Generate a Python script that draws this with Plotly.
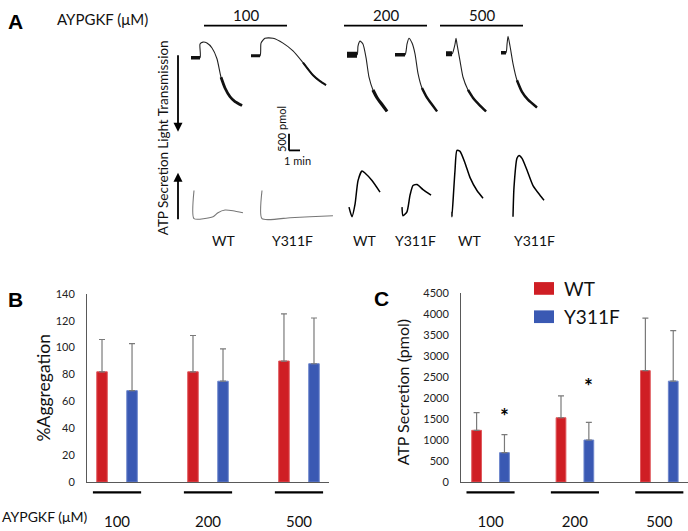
import plotly.graph_objects as go

W, H = 688, 531
FONT = "Lato"
RED = "#CF1E24"
BLUE = "#3A59B3"

# ---- panel B / C data ----
doses = ["100", "200", "500"]
agg_wt = [82, 82, 90]
agg_wt_err = [24, 27, 35]
agg_y311f = [68, 75, 88]
agg_y311f_err = [35, 24, 34]

atp_wt = [1230, 1530, 2650]
atp_wt_err = [420, 520, 1250]
atp_y311f = [700, 1000, 2400]
atp_y311f_err = [430, 420, 1200]
sig_dose = ["100", "200"]
sig_y = [1670, 2390]

# ---- panel A traces (time in min, light transmission in a.u., ATP in pmol) ----
wt100_lt_t = [0, 0.82, 0.82, 1.09, 1.45, 1.91, 2.36, 2.73, 3.09, 3.55, 4.0, 4.64]
wt100_lt_v = [0, 0, 14, 16, 15, 10, -1, -20, -31, -40, -45, -49]
y100_lt_t = [0, 0.82, 0.91, 1.27, 2.0, 2.91, 3.82, 4.73, 5.64, 6.27, 6.82]
y100_lt_v = [0, 0, 13, 18, 18, 13, 5, -7, -20, -26, -30]
wt200_lt_t = [0, 0.91, 1.0, 1.18, 1.45, 1.73, 2.0, 2.36, 2.73, 3.18, 3.64]
wt200_lt_v = [0, 0, 9, 14, 11, -3, -23, -36, -44, -51, -58]
y200_lt_t = [0, 0.91, 1.09, 1.27, 1.55, 1.82, 2.09, 2.45, 2.91, 3.36, 3.82]
y200_lt_v = [0, 0, 11, 17, 12, 1, -19, -34, -44, -51, -58]
wt500_lt_t = [0, 0.55, 0.82, 0.91, 1.0, 1.27, 1.55, 2.0, 2.45, 3.09, 3.64]
wt500_lt_v = [0, 0, 10, 16, 10, -7, -24, -37, -45, -53, -59]
y500_lt_t = [0, 0.45, 0.55, 0.64, 0.82, 1.09, 1.45, 1.91, 2.45, 3.27]
y500_lt_v = [0, 0, 9, 17, 7, -11, -28, -40, -48, -56]

wt100_atp_t = [0, 0, 1.73, 2.18, 2.82, 3.55, 4.45]
wt100_atp_v = [850, 0, 60, 180, 260, 240, 180]
y100_atp_t = [0, 0, 2.55, 4.36, 6.45]
y100_atp_v = [850, 0, 30, 60, 90]
wt200_atp_t = [0, 0.27, 0.55, 0.82, 1.18, 1.45, 2.09, 2.82]
wt200_atp_v = [290, 0, 380, 1090, 1380, 1320, 1090, 740]
y200_atp_t = [0, 0.09, 0.45, 0.73, 1.0, 1.36, 1.91, 2.64]
y200_atp_v = [260, 0, 120, 620, 910, 940, 790, 620]
wt500_atp_t = [0, 0, 0.27, 0.45, 0.73, 1.18, 1.64, 2.27, 2.82]
wt500_atp_v = [150, 0, 1380, 2000, 1970, 1620, 1180, 790, 560]
y500_atp_t = [0, 0.09, 0.36, 0.55, 0.82, 1.27, 1.82, 2.45, 2.82]
y500_atp_v = [0, 880, 1760, 1850, 1760, 1410, 940, 650, 500]

trace_labels = ["WT", "Y311F", "WT", "Y311F", "WT", "Y311F"]

# drawing scale of panel A
PX_MIN = 11.0
PX_LT = 1.0
PX_PMOL = 17.0 / 500


def px(x):
    return x / W


def py(y):
    return 1 - y / H


shapes = []
annotations = []


def note(x, y, text, size, angle=0, xanchor="center", family=FONT, color="#111"):
    annotations.append(dict(xref="paper", yref="paper", x=px(x), y=py(y), text=text, textangle=angle,
                            showarrow=False, xanchor=xanchor, yanchor="middle",
                            font=dict(family=family, size=size, color=color)))


fig = go.Figure()

# ---------- bar charts ----------
err_style = dict(type="data", symmetric=False, color="#7a7a7a", thickness=1.2, width=3)
fig.add_trace(go.Bar(x=doses, y=agg_wt, name="WT", marker=dict(color=RED, line=dict(color="#e0585c", width=1)),
                     error_y=dict(array=agg_wt_err, arrayminus=[0] * 3, **err_style),
                     xaxis="x", yaxis="y", showlegend=False))
fig.add_trace(go.Bar(x=doses, y=agg_y311f, name="Y311F", marker=dict(color=BLUE, line=dict(color="#6d86cc", width=1)),
                     error_y=dict(array=agg_y311f_err, arrayminus=[0] * 3, **err_style),
                     xaxis="x", yaxis="y", showlegend=False))
fig.add_trace(go.Bar(x=doses, y=atp_wt, name="WT", marker=dict(color=RED, line=dict(color="#e0585c", width=1)),
                     error_y=dict(array=atp_wt_err, arrayminus=[0] * 3, **err_style),
                     xaxis="x2", yaxis="y2", showlegend=False))
fig.add_trace(go.Bar(x=doses, y=atp_y311f, name="Y311F", marker=dict(color=BLUE, line=dict(color="#6d86cc", width=1)),
                     error_y=dict(array=atp_y311f_err, arrayminus=[0] * 3, **err_style),
                     xaxis="x2", yaxis="y2", showlegend=False))

axis_common = dict(showgrid=False, zeroline=False, showline=True, linecolor="#595959", linewidth=1,
                   ticks="", fixedrange=True, tickfont=dict(family=FONT, size=11, color="#222"))
layout = dict(
    xaxis=dict(axis_common, domain=[px(87), px(329)], range=[-0.33, 2.33], anchor="y",
               tickfont=dict(family=FONT, size=15, color="#111"), ticklabelstandoff=26),
    yaxis=dict(axis_common, domain=[py(487), py(294)], range=[0, 140], dtick=20, anchor="x",
               ticklabelstandoff=9),
    xaxis2=dict(axis_common, domain=[px(461), 1.0], range=[-0.35, 2.34], anchor="y2",
                tickfont=dict(family=FONT, size=15, color="#111"), ticklabelstandoff=26),
    yaxis2=dict(axis_common, domain=[py(487), py(293)], range=[0, 4500], dtick=500, anchor="x2",
                ticklabelstandoff=9),
)

# group underlines
for i in range(3):
    shapes.append(dict(type="line", xref="x", yref="paper", x0=i - 0.265, x1=i + 0.265,
                       y0=py(497.5), y1=py(497.5), line=dict(color="black", width=2.2)))
    shapes.append(dict(type="line", xref="x2", yref="paper", x0=i - 0.285, x1=i + 0.285,
                       y0=py(497.5), y1=py(497.5), line=dict(color="black", width=2.2)))

# significance
for d, s in zip(sig_dose, sig_y):
    annotations.append(dict(xref="x2", yref="y2", x=doses.index(d) + 0.166, y=s, text="<b>*</b>",
                            showarrow=False, font=dict(family=FONT, size=21, color="black"),
                            xanchor="center", yanchor="middle", yshift=-4))

# legend (panel C)
for k, (c, name) in enumerate([(RED, "WT"), (BLUE, "Y311F")]):
    top = 282 + k * 29
    shapes.append(dict(type="rect", xref="paper", yref="paper", x0=px(534), x1=px(554),
                       y0=py(top + 13), y1=py(top), fillcolor=c, line=dict(width=0)))
    note(562, top + 6.5, name, 19, xanchor="left")

# axis titles
note(43, 391, "%Aggregation", 17.5, angle=-90)
note(402, 395, "ATP Secretion (pmol)", 16, angle=-90)
note(0, 522, "AYPGKF (\u03bcM)", 14, xanchor="left")

# panel letters
for letter, x, y in [("A", 15, 15), ("B", 15, 300), ("C", 381, 299)]:
    note(x, y, "<b>%s</b>" % letter, 21, family="Liberation Sans", color="black")

# ---------- panel A ----------
note(55, 12, "AYPGKF (\u03bcM)", 15, xanchor="left")
for d, (a, b) in zip(doses, [(204, 287), (344, 427), (440, 523)]):
    shapes.append(dict(type="line", xref="paper", yref="paper", x0=px(a), x1=px(b), y0=py(19), y1=py(19),
                       line=dict(color="black", width=1.8)))
    note((a + b) / 2, 8, d, 15)

for lab, x in zip(trace_labels, [223, 292, 364, 415, 469, 534]):
    note(x, 239, lab, 14)

note(163, 90, "Light Transmission", 13.5, angle=-90)
note(163, 192, "ATP Secretion", 13.5, angle=-90)
annotations.append(dict(xref="paper", yref="paper", x=px(178), y=py(128), ax=0, ay=-78, text="",
                        showarrow=True, arrowhead=2, arrowsize=1, arrowwidth=1.8, arrowcolor="black"))
annotations.append(dict(xref="paper", yref="paper", x=px(178), y=py(170), ax=0, ay=48, text="",
                        showarrow=True, arrowhead=2, arrowsize=1, arrowwidth=1.8, arrowcolor="black"))

# scale bar: 500 pmol x 1 min
sb_x, sb_y = 289, 147
shapes.append(dict(type="line", xref="paper", yref="paper", x0=px(sb_x), x1=px(sb_x),
                   y0=py(sb_y), y1=py(sb_y - 500 * PX_PMOL), line=dict(color="black", width=1.8)))
shapes.append(dict(type="line", xref="paper", yref="paper", x0=px(sb_x), x1=px(sb_x + 1 * PX_MIN),
                   y0=py(sb_y), y1=py(sb_y), line=dict(color="black", width=1.8)))
note(282, 125, "500 pmol", 11, angle=-90)
note(297, 157, "1 min", 11)

lt_sets = [(wt100_lt_t, wt100_lt_v), (y100_lt_t, y100_lt_v), (wt200_lt_t, wt200_lt_v),
           (y200_lt_t, y200_lt_v), (wt500_lt_t, wt500_lt_v), (y500_lt_t, y500_lt_v)]
lt_anchor = [(191, 52), (251, 50), (347, 49), (395, 49), (446, 48), (501, 47)]
lt_base_w = [3.5, 3, 6, 3.5, 5, 3.5]
lt_tail_from = [7, 7, 7, 7, 7, 6]
lt_tail_w = [2.8, 2, 3.2, 2.5, 2.5, 2.5]

atp_sets = [(wt100_atp_t, wt100_atp_v), (y100_atp_t, y100_atp_v), (wt200_atp_t, wt200_atp_v),
            (y200_atp_t, y200_atp_v), (wt500_atp_t, wt500_atp_v), (y500_atp_t, y500_atp_v)]
atp_anchor = [(194, 217), (262, 217), (349, 215), (402, 214), (452, 215), (513, 215)]
atp_color = ["#777777", "#777777", "black", "black", "black", "black"]
atp_w = [1.1, 1.1, 1.5, 1.5, 1.5, 1.5]

PAD = 5
n_ax = 3


def small_axes(t, v, x0, ybase, sx, sy):
    global n_ax
    n = n_ax
    n_ax += 1
    tmin, tmax, vmin, vmax = min(t), max(t), min(v), max(v)
    layout["xaxis%d" % n] = dict(visible=False, fixedrange=True, anchor="y%d" % n,
                                 domain=[px(x0 + tmin * sx - PAD), px(x0 + tmax * sx + PAD)],
                                 range=[tmin - PAD / sx, tmax + PAD / sx])
    layout["yaxis%d" % n] = dict(visible=False, fixedrange=True, anchor="x%d" % n,
                                 domain=[py(ybase - vmin * sy + PAD), py(ybase - vmax * sy - PAD)],
                                 range=[vmin - PAD / sy, vmax + PAD / sy])
    return "x%d" % n, "y%d" % n


for (t, v), (x0, yb), bw, tf, tw in zip(lt_sets, lt_anchor, lt_base_w, lt_tail_from, lt_tail_w):
    xa, ya = small_axes(t, v, x0, yb, PX_MIN, PX_LT)
    fig.add_trace(go.Scatter(x=t, y=v, mode="lines", line=dict(color="#222", width=1.1, shape="spline", smoothing=0.6),
                             xaxis=xa, yaxis=ya, showlegend=False, hoverinfo="skip"))
    fig.add_trace(go.Scatter(x=t[:2], y=v[:2], mode="lines", line=dict(color="#111", width=bw),
                             xaxis=xa, yaxis=ya, showlegend=False, hoverinfo="skip"))
    fig.add_trace(go.Scatter(x=t[tf:], y=v[tf:], mode="lines", line=dict(color="#111", width=tw, shape="spline", smoothing=0.6),
                             xaxis=xa, yaxis=ya, showlegend=False, hoverinfo="skip"))

for (t, v), (x0, yb), c, w in zip(atp_sets, atp_anchor, atp_color, atp_w):
    xa, ya = small_axes(t, v, x0, yb, PX_MIN, PX_PMOL)
    fig.add_trace(go.Scatter(x=t, y=v, mode="lines", line=dict(color=c, width=w, shape="spline", smoothing=0.6),
                             xaxis=xa, yaxis=ya, showlegend=False, hoverinfo="skip"))

fig.update_layout(
    width=W, height=H,
    margin=dict(l=0, r=0, t=0, b=0),
    plot_bgcolor="white", paper_bgcolor="white",
    barmode="group", bargap=0.34, bargroupgap=0.65,
    font=dict(family=FONT, color="#111"),
    shapes=shapes, annotations=annotations,
    **layout
)

# page body has a default 8px margin; drop it so the figure sits at the window origin
fig.write_html("out.html", config={"displayModeBar": False},
               post_script="document.body.style.margin='0';")
